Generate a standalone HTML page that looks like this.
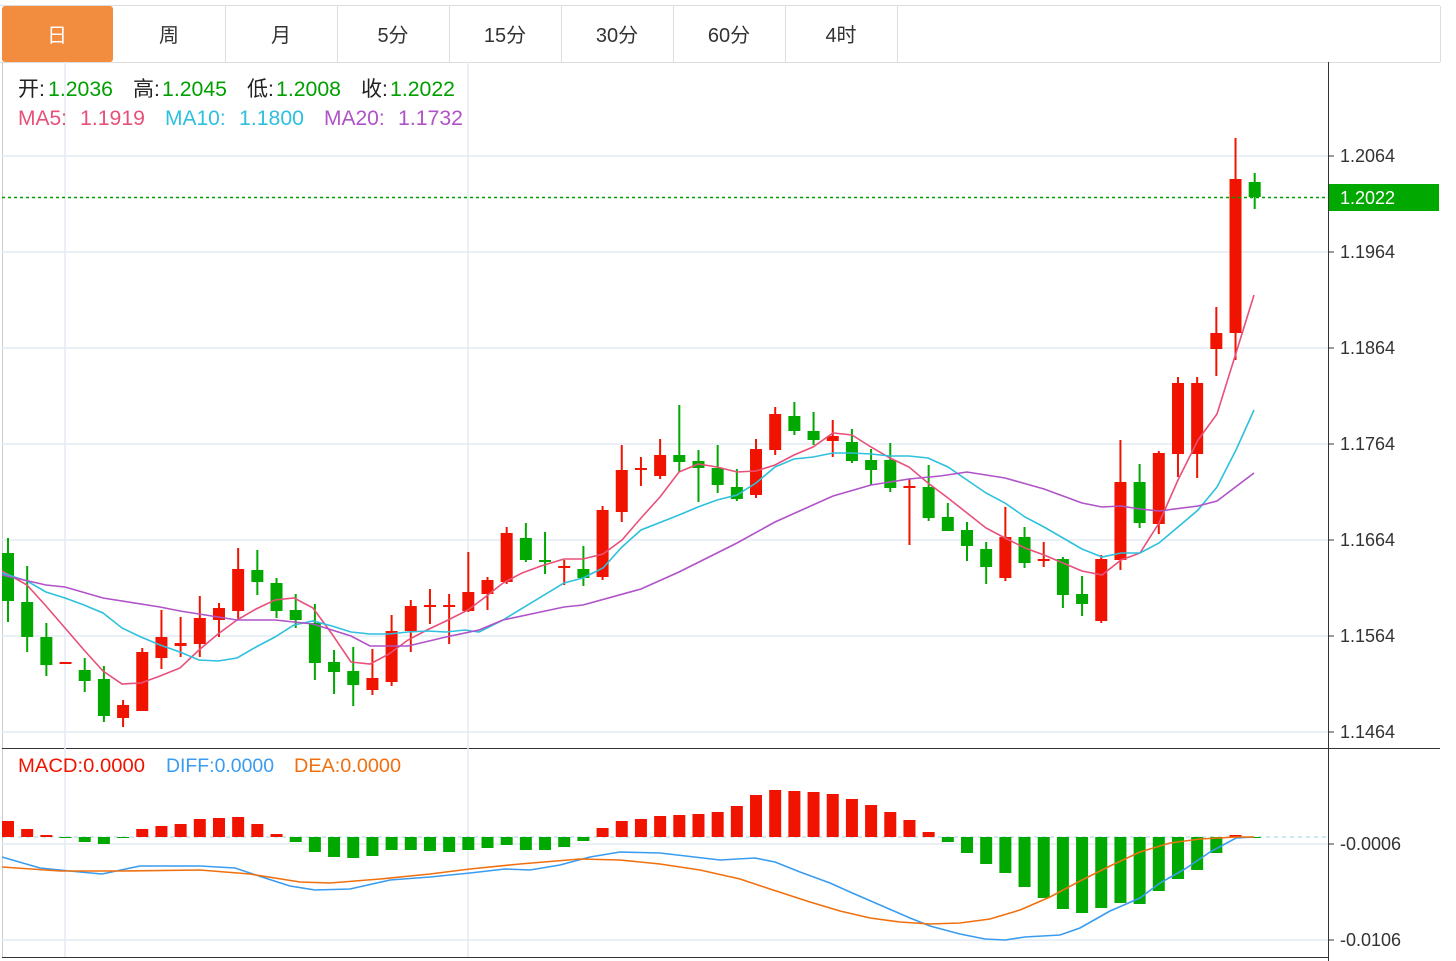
<!DOCTYPE html>
<html><head><meta charset="utf-8"><style>
body{margin:0;background:#fff;width:1456px;height:961px;overflow:hidden;font-family:"Liberation Sans","Noto Sans CJK SC",sans-serif}
svg{position:absolute;left:0;top:0}
</style></head><body>
<svg id="s" width="1456" height="961" xmlns="http://www.w3.org/2000/svg" font-family="Liberation Sans, Noto Sans CJK SC, sans-serif">
<rect x="0" y="0" width="1456" height="961" fill="#fff"/>
<line x1="0" y1="5.5" x2="1440" y2="5.5" stroke="#ddd"/>
<line x1="0" y1="62.5" x2="1440" y2="62.5" stroke="#ddd"/>
<rect x="2" y="6" width="111" height="56" rx="3" fill="#f28d40"/>
<g stroke="#ddd"><line x1="225.5" y1="6" x2="225.5" y2="62"/><line x1="337.5" y1="6" x2="337.5" y2="62"/><line x1="449.5" y1="6" x2="449.5" y2="62"/><line x1="561.5" y1="6" x2="561.5" y2="62"/><line x1="673.5" y1="6" x2="673.5" y2="62"/><line x1="785.5" y1="6" x2="785.5" y2="62"/><line x1="897.5" y1="6" x2="897.5" y2="62"/><line x1="1440.5" y1="6" x2="1440.5" y2="62"/></g>
<g font-size="20" text-anchor="middle" fill="#333">
<text x="57" y="42" fill="#fff">日</text><text x="169" y="42">周</text><text x="281" y="42">月</text><text x="393" y="42">5分</text><text x="505" y="42">15分</text><text x="617" y="42">30分</text><text x="729" y="42">60分</text><text x="841" y="42">4时</text>
</g>
<line x1="2.5" y1="62" x2="2.5" y2="957" stroke="#ccc"/>
<line x1="1328.5" y1="62" x2="1328.5" y2="961" stroke="#333"/>
<line x1="2" y1="748.5" x2="1440" y2="748.5" stroke="#333"/>
<line x1="2" y1="957.5" x2="1328" y2="957.5" stroke="#333"/>
<g stroke="#e3ecf3" stroke-width="1.5">
<line x1="2" y1="156" x2="1328" y2="156"/><line x1="2" y1="252" x2="1328" y2="252"/><line x1="2" y1="348" x2="1328" y2="348"/><line x1="2" y1="444" x2="1328" y2="444"/><line x1="2" y1="540" x2="1328" y2="540"/><line x1="2" y1="636" x2="1328" y2="636"/><line x1="2" y1="732" x2="1328" y2="732"/>
<line x1="2" y1="844" x2="1328" y2="844"/><line x1="2" y1="940" x2="1328" y2="940"/>
<line x1="65" y1="62" x2="65" y2="957"/><line x1="468" y1="62" x2="468" y2="957"/>
</g>
<g font-size="18" fill="#333">
<text x="1340" y="162">1.2064</text><text x="1340" y="258">1.1964</text><text x="1340" y="354">1.1864</text><text x="1340" y="450">1.1764</text><text x="1340" y="546">1.1664</text><text x="1340" y="642">1.1564</text><text x="1340" y="738">1.1464</text>
<text x="1340" y="850">-0.0006</text><text x="1340" y="946">-0.0106</text>
</g>
<g stroke="#333"><line x1="1328" y1="156" x2="1334" y2="156"/><line x1="1328" y1="252" x2="1334" y2="252"/><line x1="1328" y1="348" x2="1334" y2="348"/><line x1="1328" y1="444" x2="1334" y2="444"/><line x1="1328" y1="540" x2="1334" y2="540"/><line x1="1328" y1="636" x2="1334" y2="636"/><line x1="1328" y1="732" x2="1334" y2="732"/><line x1="1328" y1="844" x2="1334" y2="844"/><line x1="1328" y1="940" x2="1334" y2="940"/></g>
<g font-size="21" fill="#222">
<text x="18" y="96">开:</text><text x="48" y="96" fill="#00a000" textLength="65" lengthAdjust="spacingAndGlyphs">1.2036</text>
<text x="133" y="96">高:</text><text x="162" y="96" fill="#00a000" textLength="65" lengthAdjust="spacingAndGlyphs">1.2045</text>
<text x="247" y="96">低:</text><text x="276" y="96" fill="#00a000" textLength="65" lengthAdjust="spacingAndGlyphs">1.2008</text>
<text x="361" y="96">收:</text><text x="390" y="96" fill="#00a000" textLength="65" lengthAdjust="spacingAndGlyphs">1.2022</text>
<text x="18" y="125" fill="#e8507a">MA5:</text><text x="80" y="125" fill="#e8507a" textLength="65" lengthAdjust="spacingAndGlyphs">1.1919</text>
<text x="165" y="125" fill="#2ec0de">MA10:</text><text x="239" y="125" fill="#2ec0de" textLength="65" lengthAdjust="spacingAndGlyphs">1.1800</text>
<text x="324" y="125" fill="#b052c8">MA20:</text><text x="398" y="125" fill="#b052c8" textLength="65" lengthAdjust="spacingAndGlyphs">1.1732</text>
</g>
<g font-size="19">
<text x="18" y="772" fill="#f01400" textLength="127" lengthAdjust="spacingAndGlyphs">MACD:0.0000</text>
<text x="166" y="772" fill="#3a9cf0" textLength="108" lengthAdjust="spacingAndGlyphs">DIFF:0.0000</text>
<text x="294" y="772" fill="#f07010" textLength="107" lengthAdjust="spacingAndGlyphs">DEA:0.0000</text>
</g>
<line x1="2" y1="837" x2="1328" y2="837" stroke="#9fd0ea" stroke-dasharray="4,4"/>
<g id="c"></g>
<line x1="2" y1="197.5" x2="1328" y2="197.5" stroke="#00a000" stroke-dasharray="3,3" stroke-width="1.5"/>
<rect x="1329" y="184" width="110" height="27" fill="#00a800"/>
<text x="1340" y="204" font-size="18" fill="#fff">1.2022</text>
</svg>
<script>
var C=[[553,601,538,622],[602,637,566,652],[637,665,623,676],[663,663,663,663],[670,681,658,692],[679,716,666,722],[718,705,700,727],[711,652,648,711],[658,637,610,669],[646,643,617,657],[644,618,596,657],[620,608,603,637],[611,569,548,620],[570,582,550,595],[583,611,578,618],[610,620,594,628],[623,663,604,680],[662,672,650,694],[671,685,647,706],[690,678,649,695],[682,631,615,686],[631,606,600,652],[607,606,589,624],[607,606,594,644],[611,592,552,612],[594,580,577,610],[582,533,527,584],[538,560,523,562],[561,563,532,574],[568,567,560,585],[569,578,546,586],[577,510,506,580],[512,470,445,522],[470,469,457,486],[476,455,439,479],[455,462,405,472],[461,468,450,502],[468,485,445,493],[487,499,469,501],[495,449,439,498],[450,414,407,455],[416,431,402,435],[431,440,412,445],[441,436,420,457],[442,461,429,463],[460,470,449,485],[460,488,443,492],[489,487,479,545],[487,518,465,521],[517,531,503,531],[530,546,522,561],[549,567,542,584],[578,537,507,581],[537,563,527,568],[562,560,542,567],[559,595,557,608],[594,604,576,616],[621,559,555,623],[560,482,440,570],[482,523,464,528],[524,453,451,534],[454,383,377,477],[454,383,377,478],[349,333,307,376],[333,179,138,360],[182,197,173,209]];
var H=[821,829,835,838,842,844,838,829,826,824,819,818,817,824,834,842,852,857,858,856,850,850,851,852,850,848,845,850,850,847,841,828,821,819,816,815,814,812,806,795,790,791,792,794,799,805,812,820,832,842,853,864,873,887,898,909,913,908,903,904,891,879,870,853,835,837];
var R="#f01400",G="#00a800",s="";
function X(i){return 8+i*19.18}
H.forEach(function(h,i){var up=h<837,c=up?R:G;var y=Math.min(h,837),hh=Math.max(Math.abs(h-837),1);s+='<rect x="'+(X(i)-6)+'" y="'+y+'" width="12" height="'+hh+'" fill="'+c+'"/>';});
C.forEach(function(d,i){var o=d[0],c=d[1];var col=(c<o)?R:(c>o?G:R);var x=X(i);s+='<line x1="'+x+'" y1="'+d[2]+'" x2="'+x+'" y2="'+d[3]+'" stroke="'+col+'" stroke-width="2"/>';var t=Math.min(o,c),b=Math.max(Math.abs(o-c),2);s+='<rect x="'+(x-6)+'" y="'+(t-(b==2?1:0))+'" width="12" height="'+b+'" fill="'+col+'"/>';});
function P(p,c,w){s+='<polyline fill="none" stroke="'+c+'" stroke-width="'+(w||1.6)+'" points="'+p+'"/>';}
P("2,571 27,585 46,606 65,628 84,650 103,671 122,684 141,683 160,676 180,668 199,650 218,634 237,620 256,609 275,600 294,598 313,608 332,634 351,662 370,664 389,654 408,640 427,630 446,621 468,610 484,598 503,583 522,573 541,566 564,559 583,559 603,554 622,540 641,518 660,497 679,472 698,464 717,467 737,472 756,471 775,465 794,455 813,447 833,433 852,435 871,447 890,458 909,467 928,483 948,498 967,513 986,528 1005,538 1025,548 1044,555 1063,563 1082,571 1102,575 1121,560 1140,553 1159,523 1178,480 1198,440 1217,414 1236,353 1254,295","#e8507a");
P("2,573 27,581 46,592 65,598 84,605 103,613 122,628 141,637 160,645 180,652 199,660 218,661 237,658 256,647 275,637 294,625 313,621 332,626 351,632 370,634 389,634 408,632 427,631 446,632 465,630 479,632 503,620 564,583 583,578 603,568 622,547 641,530 679,515 698,507 717,500 737,495 756,483 775,467 794,459 813,457 833,453 852,453 871,454 890,456 909,456 928,458 948,467 967,480 986,493 1005,503 1025,517 1044,527 1063,538 1082,549 1102,557 1121,553 1140,553 1159,543 1178,527 1198,510 1217,487 1236,450 1254,410","#2ec0de");
P("2,575 46,585 65,587 103,598 160,607 180,611 237,620 275,620 313,624 351,636 370,646 408,646 446,637 479,630 503,620 564,607 583,605 641,589 679,572 737,543 775,522 833,496 871,485 909,479 940,476 967,472 1005,478 1044,489 1082,503 1102,507 1121,506 1140,509 1159,511 1198,506 1217,501 1254,473","#b052c8");
P("2,857 40,868 80,872 102,874 140,866 200,866 235,868 265,878 290,886 315,890 350,889 390,880 430,877 470,873 505,869 530,870 560,865 590,857 620,852 660,853 720,860 755,858 775,862 800,872 830,883 850,892 880,905 910,918 930,926 960,934 985,939 1005,940 1025,937 1060,935 1080,928 1110,911 1140,898 1160,883 1185,869 1210,852 1236,838 1254,837","#3a9cf0");
P("2,867 60,871 120,871 200,870 250,874 300,882 330,883 380,879 430,874 470,869 520,864 580,859 620,860 660,864 700,870 740,879 770,889 810,902 840,911 870,918 900,922 930,924 960,923 990,919 1020,910 1050,897 1080,881 1110,866 1140,852 1170,843 1200,839 1236,837 1254,837","#f07010");
document.getElementById("c").innerHTML=s;
</script>
</body></html>
